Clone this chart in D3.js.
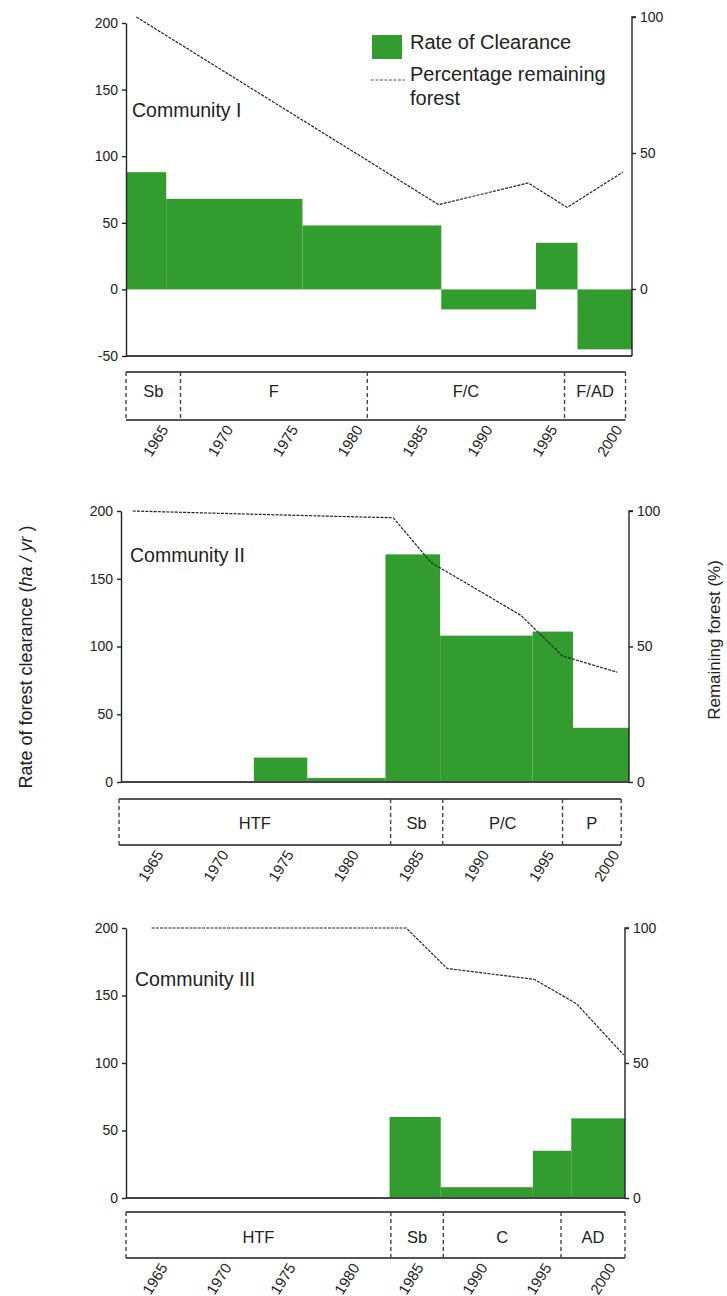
<!DOCTYPE html>
<html>
<head>
<meta charset="utf-8">
<script src="https://cdn.jsdelivr.net/npm/d3@7/dist/d3.min.js"></script>
<style>
  html, body { margin: 0; padding: 0; background: #fff; }
  svg { display: block; font-family: "Liberation Sans", Arial, sans-serif; }
  .tick text { fill: #222; }
</style>
</head>
<body>
<svg id="chart" width="727" height="1296"></svg>
<script>
// ---- Data ---------------------------------------------------------------
const yearTicks = [1965, 1970, 1975, 1980, 1985, 1990, 1995, 2000];
const yearDomain = [1962, 2001];

// Community I
const c1Breaks = [1962, 1965.1, 1975.6, 1986.3, 1993.6, 1996.8, 2001];
const c1Rate = [88, 68, 48, -15, 35, -45];
const c1ForestYears = [1962.8, 1986.1, 1993.0, 1996.0, 2000.3];
const c1Forest = [100, 31, 39, 30, 43];
const c1PhaseBreaks = [1962, 1966.2, 1980.6, 1995.8, 2000.5];
const c1Phases = ["Sb", "F", "F/C", "F/AD"];

// Community II
const c2Breaks = [1972.2, 1976.3, 1982.3, 1986.5, 1993.6, 1996.7, 2001];
const c2Rate = [18, 3, 168, 108, 111, 40];
const c2ForestYears = [1962.9, 1974.6, 1982.9, 1985.8, 1992.7, 1995.9, 2000.1];
const c2Forest = [100, 98.5, 97.5, 81, 61.5, 46.5, 40.5];
const c2PhaseBreaks = [1961.85, 1982.7, 1986.7, 1995.9, 2000.4];
const c2Phases = ["HTF", "Sb", "P/C", "P"];

// Community III
const c3Breaks = [1982.6, 1986.6, 1993.8, 1996.8, 2001];
const c3Rate = [60, 8, 35, 59];
const c3ForestYears = [1964.0, 1983.9, 1987.1, 1993.9, 1997.2, 2000.9];
const c3Forest = [100, 100, 85, 81, 72, 53];
const c3PhaseBreaks = [1962, 1982.7, 1986.8, 1996.0, 2001];
const c3Phases = ["HTF", "Sb", "C", "AD"];

const leftTicksNeg = [-50, 0, 50, 100, 150, 200];
const leftTicks = [0, 50, 100, 150, 200];
const rightTicks = [0, 50, 100];

// ---- Layout and style ---------------------------------------------------
const GREEN = "#339c2f";
const INK = "#222";
const FONT = "\"Liberation Sans\", Arial, sans-serif";

const panels = [
  { name: "Community I", breaks: c1Breaks, rate: c1Rate, fYears: c1ForestYears, forest: c1Forest,
    phaseBreaks: c1PhaseBreaks, phases: c1Phases, leftDomain: [-50, 200], leftTicks: leftTicksNeg,
    x0: 126, x1: 632, yTop: 23, yBot: 356, rTop: 17, rZero: 289,
    phaseTop: 372, phaseBot: 420, phaseText: 397, title: [132, 117], legend: true },
  { name: "Community II", breaks: c2Breaks, rate: c2Rate, fYears: c2ForestYears, forest: c2Forest,
    phaseBreaks: c2PhaseBreaks, phases: c2Phases, leftDomain: [0, 200], leftTicks: leftTicks,
    x0: 121, x1: 629, yTop: 511, yBot: 782, rTop: 511, rZero: 782,
    phaseTop: 799, phaseBot: 845, phaseText: 829, title: [130, 562] },
  { name: "Community III", breaks: c3Breaks, rate: c3Rate, fYears: c3ForestYears, forest: c3Forest,
    phaseBreaks: c3PhaseBreaks, phases: c3Phases, leftDomain: [0, 200], leftTicks: leftTicks,
    x0: 126, x1: 625, yTop: 928, yBot: 1198, rTop: 928, rZero: 1198,
    phaseTop: 1212, phaseBot: 1258, phaseText: 1243, title: [135, 986] }
];

const svg = d3.select("#chart");

panels.forEach(p => {
  const g = svg.append("g");
  const x = d3.scaleLinear().domain(yearDomain).range([p.x0, p.x1]);
  const yL = d3.scaleLinear().domain(p.leftDomain).range([p.yBot, p.yTop]);
  const yR = d3.scaleLinear().domain([0, 100]).range([p.rZero, p.rTop]);

  // clearance-rate bars, one per period
  const bars = p.rate.map((v, i) => ({ a: p.breaks[i], b: p.breaks[i + 1], v }));
  g.append("g").selectAll("rect").data(bars).join("rect")
    .attr("x", d => x(d.a))
    .attr("width", d => x(d.b) - x(d.a))
    .attr("y", d => yL(Math.max(0, d.v)))
    .attr("height", d => Math.abs(yL(d.v) - yL(0)))
    .attr("fill", GREEN);

  // remaining-forest line
  const pts = p.forest.map((v, i) => [p.fYears[i], v]);
  g.append("path")
    .attr("d", d3.line().x(d => x(d[0])).y(d => yR(d[1]))(pts))
    .attr("fill", "none").attr("stroke", INK)
    .attr("stroke-width", 1.2).attr("stroke-dasharray", "3,1.2");

  // horizontal base line of the plot
  g.append("line")
    .attr("x1", p.x0).attr("x2", p.x1)
    .attr("y1", p.yBot).attr("y2", p.yBot)
    .attr("stroke", "#444").attr("stroke-width", 1.8);

  // left axis
  const la = g.append("g").attr("transform", `translate(${p.x0},0)`)
    .call(d3.axisLeft(yL).tickValues(p.leftTicks).tickFormat(d => String(d))
      .tickSize(4).tickSizeOuter(0).tickPadding(4));
  la.selectAll("text").style("font-size", "14px").style("font-family", FONT);
  la.selectAll("line, path").attr("stroke", INK).attr("stroke-width", 1.4);

  // right axis
  const ra = g.append("g").attr("transform", `translate(${p.x1},0)`)
    .call(d3.axisRight(yR).tickValues(rightTicks).tickFormat(d => String(d))
      .tickSize(4).tickSizeOuter(4).tickPadding(4));
  ra.select(".domain").attr("d", `M${4},${p.rTop}H0V${p.yBot}`);
  ra.selectAll("text").style("font-size", "14px").style("font-family", FONT);
  ra.selectAll("line, path").attr("stroke", INK).attr("stroke-width", 1.4);

  // panel title
  g.append("text").attr("x", p.title[0]).attr("y", p.title[1])
    .style("font-size", "19.5px").style("font-family", FONT).attr("fill", INK)
    .text(p.name);

  // phase bar under the plot
  const pb = g.append("g");
  [p.phaseTop, p.phaseBot].forEach(yy => pb.append("line")
    .attr("x1", x(p.phaseBreaks[0])).attr("x2", x(p.phaseBreaks[p.phaseBreaks.length - 1]))
    .attr("y1", yy).attr("y2", yy).attr("stroke", "#555").attr("stroke-width", 2));
  pb.selectAll("line.sep").data(p.phaseBreaks).join("line").attr("class", "sep")
    .attr("x1", d => x(d)).attr("x2", d => x(d))
    .attr("y1", p.phaseTop).attr("y2", p.phaseBot)
    .attr("stroke", "#444").attr("stroke-width", 1.4).attr("stroke-dasharray", "4,3");
  const phaseData = p.phases.map((t, i) => ({ t, a: p.phaseBreaks[i], b: p.phaseBreaks[i + 1] }));
  pb.selectAll("text").data(phaseData).join("text")
    .attr("x", d => x((d.a + d.b) / 2))
    .attr("y", p.phaseText)
    .attr("text-anchor", "middle")
    .style("font-size", "16.5px").style("font-family", FONT).attr("fill", INK)
    .text(d => d.t);

  // year labels
  const xa = g.append("g").attr("transform", `translate(0,${p.phaseBot + 5})`)
    .call(d3.axisBottom(x).tickValues(yearTicks).tickFormat(d => String(d)).tickSize(0).tickPadding(0));
  xa.select(".domain").remove();
  xa.selectAll("text")
    .style("font-size", "15px").style("font-family", FONT).attr("fill", "#333")
    .attr("text-anchor", "end").attr("dy", "0.35em").attr("y", 0)
    .attr("transform", "rotate(-58)")
    .attr("x", -2);

  // legend
  if (p.legend) {
    const lg = g.append("g");
    lg.append("rect").attr("x", 372).attr("y", 35).attr("width", 30).attr("height", 24).attr("fill", GREEN);
    lg.append("text").attr("x", 410).attr("y", 49)
      .style("font-size", "20px").style("font-family", FONT).attr("fill", INK).text("Rate of Clearance");
    lg.append("line").attr("x1", 371).attr("x2", 405).attr("y1", 80).attr("y2", 80)
      .attr("stroke", "#555").attr("stroke-width", 1).attr("stroke-dasharray", "3,1.5");
    const lt = lg.append("text").attr("x", 410).attr("y", 81)
      .style("font-size", "20px").style("font-family", FONT).attr("fill", INK);
    lt.append("tspan").attr("x", 410).text("Percentage remaining");
    lt.append("tspan").attr("x", 410).attr("dy", 24).text("forest");
  }
});

// shared axis titles
const lt = svg.append("text")
  .attr("transform", "translate(32,657) rotate(-90)")
  .attr("text-anchor", "middle")
  .style("font-size", "18px").style("font-family", FONT).attr("fill", INK);
lt.append("tspan").text("Rate of forest clearance (");
lt.append("tspan").style("font-style", "italic").text("ha / yr");
lt.append("tspan").text(" )");

svg.append("text")
  .attr("transform", "translate(720,640) rotate(-90)")
  .attr("text-anchor", "middle")
  .style("font-size", "17px").style("font-family", FONT).attr("fill", INK)
  .text("Remaining forest (%)");
</script>
</body>
</html>
